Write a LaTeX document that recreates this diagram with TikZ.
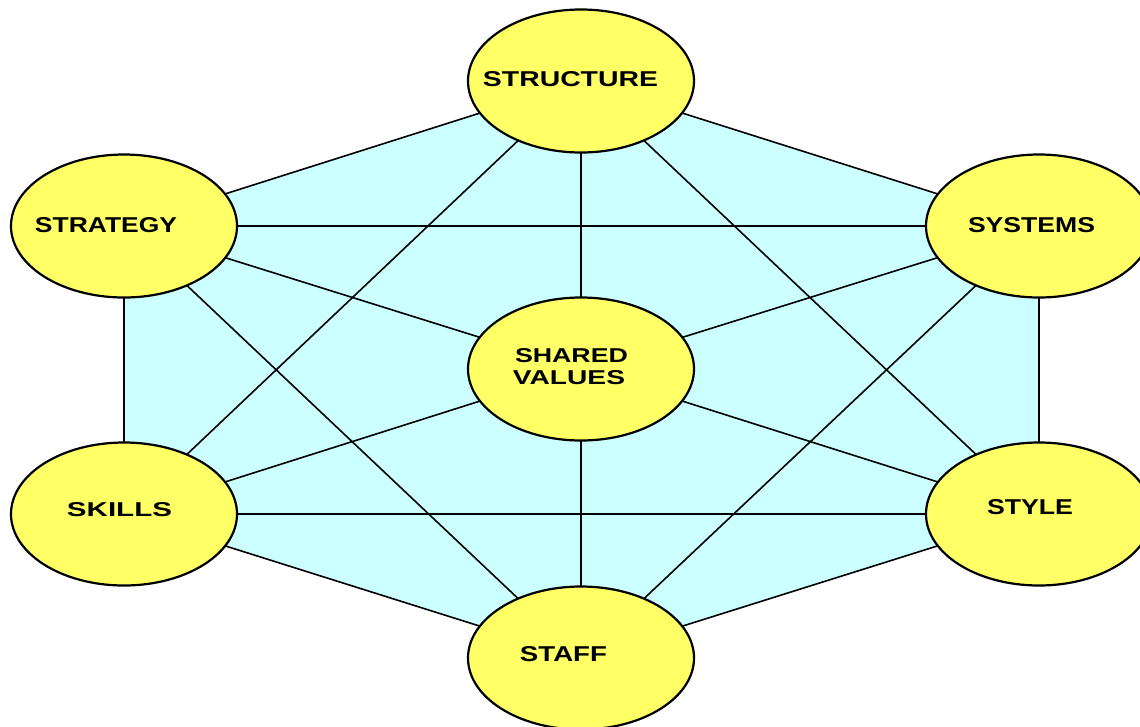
\documentclass[tikz,border=0pt]{standalone}
\usepackage{fontspec}
\setmainfont{Liberation Sans}
\usetikzlibrary{shapes.geometric,backgrounds}
\definecolor{bubble}{RGB}{255,255,102}
\definecolor{field}{RGB}{204,255,255}
\tikzset{
  element/.style={ellipse, draw=black, line width=2.2pt, fill=bubble,
    minimum width=226pt, minimum height=143pt, inner sep=0pt},
  caption/.style={inner sep=0pt, font=\bfseries},
  link/.style={draw=black, line width=1.6pt}
}
% stretched bold caption of given width and cap height
\newcommand{\elcap}[3]{\resizebox{#1pt}{#2pt}{#3}}
\begin{document}
\begin{tikzpicture}[x=1pt,y=-1pt]
\useasboundingbox (0,0) rectangle (1140,726);

% the seven elements
\node[element] (structure) at (581,81)  {};
\node[element] (strategy)  at (124,226) {};
\node[element] (systems)   at (1039,226) {};
\node[element] (shared)    at (581,369) {};
\node[element] (skills)    at (124,514) {};
\node[element] (style)     at (1039,514) {};
\node[element] (staff)     at (581,658) {};

% captions
\node[caption] (t-structure) at (570.5,79.5) {\elcap{175}{15}{STRUCTURE}};
\node[caption] (t-strategy)  at (106,225.5)  {\elcap{142}{15}{STRATEGY}};
\node[caption] (t-systems)   at (1031.5,225.5) {\elcap{127}{15}{SYSTEMS}};
\node[caption] (t-shared)    at (571.5,356)  {\elcap{113}{14}{SHARED}};
\node[caption] (t-values)    at (569,377.5)  {\elcap{112}{14}{VALUES}};
\node[caption] (t-skills)    at (119.5,510)  {\elcap{105}{14}{SKILLS}};
\node[caption] (t-style)     at (1030,507.5) {\elcap{86}{15}{STYLE}};
\node[caption] (t-staff)     at (563.5,654.5) {\elcap{87}{15}{STAFF}};

\begin{pgfonlayer}{background}
  \fill[white] (0,0) rectangle (1140,726);
  % hexagonal field
  \fill[field] (structure.center) -- (systems.center) -- (style.center)
    -- (staff.center) -- (skills.center) -- (strategy.center) -- cycle;
  % outline of the hexagon
  \path[link] (structure.center) -- (systems.center) -- (style.center)
    -- (staff.center) -- (skills.center) -- (strategy.center) -- cycle;
  % spokes to shared values
  \foreach \n in {structure,strategy,systems,skills,style,staff}
    \path[link] (shared.center) -- (\n.center);
  % two triangles
  \path[link] (structure.center) -- (skills.center) -- (style.center) -- cycle;
  \path[link] (strategy.center) -- (systems.center) -- (staff.center) -- cycle;
\end{pgfonlayer}
\end{tikzpicture}
\end{document}
